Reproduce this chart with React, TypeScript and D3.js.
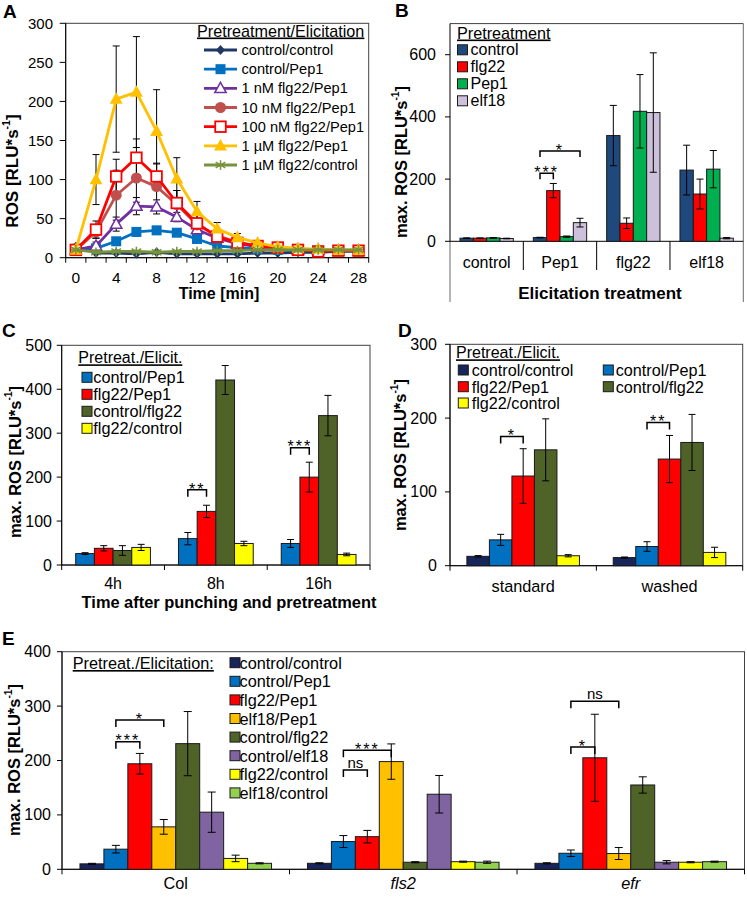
import React from "react";
import * as d3 from "d3";

const FONT = "'Liberation Sans', Arial, Helvetica, sans-serif";

// ---------------- Panel A data ----------------
const timeA = [0, 2, 4, 6, 8, 10, 12, 14, 16, 18, 20, 22, 24, 26, 28];
const seriesA = [
  "control/control",
  "control/Pep1",
  "1 nM flg22/Pep1",
  "10 nM flg22/Pep1",
  "100 nM flg22/Pep1",
  "1 µM flg22/Pep1",
  "1 µM flg22/control",
];
const ccA = [14, 6, 6, 5, 7, 5, 5, 5, 5, 6, 6, 7, 7, 8, 8];
const cPA = [10, 12, 21, 33, 35, 32, 24, 15, 13, 11, 10, 9, 9, 9, 9];
const n1A = [10, 15, 43, 66, 65, 52, 36, 25, 18, 14, 12, 10, 10, 9, 9];
const n10A = [10, 33, 80, 102, 91, 68, 42, 28, 20, 15, 12, 10, 9, 9, 9];
const n100A = [10, 36, 104, 128, 104, 70, 44, 27, 19, 15, 13, 10, 8, 9, 9];
const u1A = [10, 100, 203, 212, 162, 101, 59, 37, 26, 19, 14, 12, 11, 10, 10];
const fcA = [10, 7, 8, 8, 7, 8, 8, 9, 9, 10, 10, 10, 10, 10, 10];
const ccAe = [3, 1, 1, 1, 1, 1, 1, 1, 1, 1, 1, 1, 1, 1, 1];
const cPAe = [1, 2, 4, 5, 5, 4, 3, 2, 2, 1, 1, 1, 1, 1, 1];
const n1Ae = [1, 5, 9, 11, 9, 6, 5, 3, 2, 2, 1, 1, 1, 1, 1];
const n10Ae = [1, 8, 32, 31, 29, 18, 12, 6, 4, 3, 2, 1, 1, 1, 1];
const n100Ae = [1, 11, 22, 24, 17, 16, 14, 7, 5, 3, 2, 1, 1, 1, 1];
const u1Ae = [1, 32, 68, 71, 53, 27, 13, 8, 5, 3, 2, 2, 1, 1, 1];
const fcAe = [1, 1, 1, 1, 1, 1, 1, 1, 1, 1, 1, 1, 1, 1, 1];
const yTicksA = [0, 50, 100, 150, 200, 250, 300];
const colorsA = ["#1F3864", "#0070C0", "#7030A0", "#C0504D", "#FF0000", "#FFC000", "#77933C"];
const markersA = ["diamond", "square", "triOpen", "circle", "sqOpen", "tri", "star"];

// ---------------- Panel B data ----------------
const catsB = ["control", "Pep1", "flg22", "elf18"];
const seriesB = ["control", "flg22", "Pep1", "elf18"];
const bControl = [10, 12, 340, 229];
const bFlg22 = [10, 163, 58, 152];
const bPep1 = [11, 15, 418, 232];
const bElf18 = [9, 60, 414, 10];
const bControlE = [1, 1, 97, 80];
const bFlg22E = [1, 23, 17, 48];
const bPep1E = [1, 2, 118, 60];
const bElf18E = [1, 14, 192, 2];
const yTicksB = [0, 200, 400, 600];
const colorsB = ["#1F497D", "#FF0000", "#00B050", "#CCC0DA"];
const bracketsB = [
  { cat: 1, a: 0, b: 3, v: 290, label: "*" },
  { cat: 1, a: 0, b: 1, v: 219, label: "***" },
];

// ---------------- Panel C data ----------------
const catsC = ["4h", "8h", "16h"];
const seriesC = ["control/Pep1", "flg22/Pep1", "control/flg22", "flg22/control"];
const cCP = [26, 60, 49];
const cFP = [38, 122, 200];
const cCF = [33, 421, 340];
const cFC = [40, 49, 24];
const cCPe = [2, 14, 9];
const cFPe = [6, 14, 34];
const cCFe = [11, 33, 46];
const cFCe = [7, 5, 3];
const yTicksC = [0, 100, 200, 300, 400, 500];
const colorsC = ["#0070C0", "#FF0000", "#4F6228", "#FFFF00"];
const bracketsC = [
  { cat: 1, a: 0, b: 1, v: 171, label: "**" },
  { cat: 2, a: 0, b: 1, v: 267, label: "***" },
];

// ---------------- Panel D data ----------------
const catsD = ["standard", "washed"];
const seriesD = ["control/control", "control/Pep1", "flg22/Pep1", "control/flg22", "flg22/control"];
const dCC = [12.7, 11];
const dCP = [35, 26];
const dFP = [121.5, 144.5];
const dCF = [157, 167];
const dFC = [13.5, 18];
const dCCe = [1, 0.8];
const dCPe = [7.5, 6.5];
const dFPe = [37, 32];
const dCFe = [42, 38];
const dFCe = [1.5, 7];
const yTicksD = [0, 100, 200, 300];
const colorsD = ["#17255A", "#0070C0", "#FF0000", "#4F6228", "#FFFF00"];
const bracketsD = [
  { cat: 0, a: 1, b: 2, v: 175, label: "*" },
  { cat: 1, a: 1, b: 2, v: 194, label: "**" },
];

// ---------------- Panel E data ----------------
const catsE = ["Col", "fls2", "efr"];
const seriesE = [
  "control/control",
  "control/Pep1",
  "flg22/Pep1",
  "elf18/Pep1",
  "control/flg22",
  "control/elf18",
  "flg22/control",
  "elf18/control",
];
const eCC = [10, 11, 11];
const eCP = [37, 51, 29.5];
const eFP = [194, 60, 205];
const eEP = [78, 198, 29];
const eCF = [231, 13, 155];
const eCE = [105, 138, 13];
const eFC = [20, 14, 13];
const eEC = [11, 13, 14];
const eCCe = [1, 1, 1];
const eCPe = [7, 11, 6];
const eFPe = [19, 11.5, 80];
const eEPe = [13.5, 32.5, 11];
const eCFe = [59, 1, 15];
const eCEe = [37, 34.5, 3];
const eFCe = [6, 1, 1];
const eECe = [1, 2, 1];
const yTicksE = [0, 100, 200, 300, 400];
const colorsE = ["#17255A", "#0070C0", "#FF0000", "#FFC000", "#4F6228", "#8064A2", "#FFFF00", "#92D050"];
const bracketsE = [
  { cat: 0, a: 1, b: 3, v: 274.5, label: "*" },
  { cat: 0, a: 1, b: 2, v: 234.6, label: "***" },
  { cat: 1, a: 1, b: 3, v: 219, label: "***" },
  { cat: 1, a: 1, b: 2, v: 182.5, label: "ns" },
  { cat: 2, a: 1, b: 3, v: 309, label: "ns" },
  { cat: 2, a: 1, b: 2, v: 225, label: "*" },
];

// ------------------------------------------------

function YTitle({ cx, cy, pre, size }: { cx: number; cy: number; pre: string; size: number }) {
  return (
    <text
      transform={`translate(${cx},${cy}) rotate(-90)`}
      textAnchor="middle"
      dominantBaseline="central"
      fontWeight="bold"
      fontSize={size}
    >
      {pre}
      <tspan dy={-size * 0.38} fontSize={size * 0.62}>
        -1
      </tspan>
      <tspan dy={size * 0.38}>]</tspan>
    </text>
  );
}

function Marker({ kind, x, y, color }: { kind: string; x: number; y: number; color: string }) {
  if (kind === "diamond") {
    return <path d={`M${x},${y - 5}L${x + 4.5},${y}L${x},${y + 5}L${x - 4.5},${y}Z`} fill={color} />;
  }
  if (kind === "square") {
    return <rect x={x - 5} y={y - 5} width={10} height={10} fill={color} />;
  }
  if (kind === "triOpen") {
    const r = 6;
    return (
      <path
        d={`M${x},${y - r}L${x + r * 0.95},${y + r * 0.7}L${x - r * 0.95},${y + r * 0.7}Z`}
        fill="#fff"
        stroke={color}
        strokeWidth={1.5}
      />
    );
  }
  if (kind === "tri") {
    const r = 6.8;
    return <path d={`M${x},${y - r}L${x + r * 0.95},${y + r * 0.7}L${x - r * 0.95},${y + r * 0.7}Z`} fill={color} />;
  }
  if (kind === "circle") {
    return <circle cx={x} cy={y} r={5.5} fill={color} />;
  }
  if (kind === "sqOpen") {
    return <rect x={x - 5.3} y={y - 5.3} width={10.6} height={10.6} fill="#fff" stroke={color} strokeWidth={1.8} />;
  }
  // star / asterisk
  const r = 4.8;
  return (
    <g stroke={color} strokeWidth={1.5}>
      <line x1={x} y1={y - r} x2={x} y2={y + r} />
      <line x1={x - r} y1={y - r * 0.6} x2={x + r} y2={y + r * 0.6} />
      <line x1={x - r} y1={y + r * 0.6} x2={x + r} y2={y - r * 0.6} />
      <line x1={x - r} y1={y} x2={x + r} y2={y} />
    </g>
  );
}

function PanelA() {
  const left = 65.7;
  const right = 368.7;
  const bottom = 257.7;
  const top = 23.3;
  const x = d3.scaleBand<string>().domain(timeA.map(String)).range([left, right]).padding(0);
  const bw = x.bandwidth();
  const cx = (t: number) => (x(String(t)) as number) + bw / 2;
  const y = d3.scaleLinear().domain([0, 300]).range([bottom, top]);
  const vals = [ccA, cPA, n1A, n10A, n100A, u1A, fcA];
  const errs = [ccAe, cPAe, n1Ae, n10Ae, n100Ae, u1Ae, fcAe];
  const line = d3
    .line<number>()
    .x((_, i) => cx(timeA[i]))
    .y((v) => y(v));
  const legendY0 = 50;
  const legendStep = 19.17;
  return (
    <g>
      <text x={3} y={18} fontSize={19} fontWeight="bold">
        A
      </text>
      <rect x={left} y={top} width={right - left} height={bottom - top} fill="none" stroke="#404040" strokeWidth={1} />
      <line x1={left} y1={top} x2={left} y2={bottom} stroke="#000" />
      {yTicksA.map((t) => (
        <g key={t}>
          <line x1={left - 6} x2={left} y1={y(t)} y2={y(t)} stroke="#000" />
          <text x={53} y={y(t)} textAnchor="end" dominantBaseline="central" fontSize={15}>
            {t}
          </text>
        </g>
      ))}
      <line x1={left} y1={bottom} x2={right} y2={bottom} stroke="#000" />
      {d3.range(timeA.length + 1).map((i) => (
        <line key={i} x1={left + i * bw} x2={left + i * bw} y1={bottom} y2={bottom + 5} stroke="#000" />
      ))}
      {timeA
        .filter((t) => t % 4 === 0)
        .map((t) => (
          <text key={t} x={cx(t)} y={283} textAnchor="middle" fontSize={15.5}>
            {t}
          </text>
        ))}
      <text x={219} y={299} textAnchor="middle" fontSize={16} fontWeight="bold">
        Time [min]
      </text>
      <YTitle cx={12} cy={171} pre="ROS [RLU*s" size={17} />
      {vals.map((vs, s) =>
        vs.map((v, i) => {
          const e = errs[s][i];
          const xx = cx(timeA[i]);
          return (
            <g key={`${s}-${i}`} stroke="#000" strokeWidth={1}>
              <line x1={xx} x2={xx} y1={y(v + e)} y2={y(v - e)} />
              <line x1={xx - 3.5} x2={xx + 3.5} y1={y(v + e)} y2={y(v + e)} />
              <line x1={xx - 3.5} x2={xx + 3.5} y1={y(v - e)} y2={y(v - e)} />
            </g>
          );
        })
      )}
      {vals.map((vs, s) => (
        <g key={s}>
          <path d={line(vs) as string} fill="none" stroke={colorsA[s]} strokeWidth={2.8} strokeLinejoin="round" />
          {vs.map((v, i) => (
            <Marker key={i} kind={markersA[s]} x={cx(timeA[i])} y={y(v)} color={colorsA[s]} />
          ))}
        </g>
      ))}
      <text x={197} y={36.5} fontSize={16.2} style={{ textDecoration: "underline" }}>
        Pretreatment/Elicitation
      </text>
      {seriesA.map((name, s) => {
        const yy = legendY0 + s * legendStep;
        return (
          <g key={name}>
            <line x1={204} x2={237} y1={yy} y2={yy} stroke={colorsA[s]} strokeWidth={2.8} />
            <Marker kind={markersA[s]} x={220.5} y={yy} color={colorsA[s]} />
            <text x={241.5} y={yy} dominantBaseline="central" fontSize={14.6}>
              {name}
            </text>
          </g>
        );
      })}
    </g>
  );
}

type Bracket = { cat: number; a: number; b: number; v: number; label: string };

function Bars(props: {
  cats: string[];
  vals: number[][];
  errs: number[][];
  colors: string[];
  left: number;
  right: number;
  bottom: number;
  top: number;
  yMax: number;
  cap: number;
  brackets: Bracket[];
  drop: number;
  fontSize: number;
}) {
  const { cats, vals, errs, colors, left, right, bottom, top, yMax, cap, brackets, drop, fontSize } = props;
  const x = d3.scaleBand<string>().domain(cats).range([left, right]).padding(0);
  const n = vals.length;
  const bw = x.bandwidth() / (n + 1.5);
  const off = 0.75 * bw;
  const y = d3.scaleLinear().domain([0, yMax]).range([bottom, top]);
  const bx = (c: number, s: number) => (x(cats[c]) as number) + off + s * bw;
  return (
    <g>
      {vals.map((vs, s) =>
        vs.map((v, c) => (
          <rect
            key={`${s}-${c}`}
            x={bx(c, s)}
            y={y(v)}
            width={bw}
            height={y(0) - y(v)}
            fill={colors[s]}
            stroke="#1a1a1a"
            strokeWidth={1}
          />
        ))
      )}
      {vals.map((vs, s) =>
        vs.map((v, c) => {
          const e = errs[s][c];
          const xx = bx(c, s) + bw / 2;
          return (
            <g key={`e${s}-${c}`} stroke="#000" strokeWidth={1}>
              <line x1={xx} x2={xx} y1={y(v + e)} y2={y(v - e)} />
              <line x1={xx - cap} x2={xx + cap} y1={y(v + e)} y2={y(v + e)} />
              <line x1={xx - cap} x2={xx + cap} y1={y(v - e)} y2={y(v - e)} />
            </g>
          );
        })
      )}
      {brackets.map((b, i) => {
        const xa = bx(b.cat, b.a) + bw / 2;
        const xb = bx(b.cat, b.b) + bw / 2;
        const yy = y(b.v);
        const isStar = b.label.indexOf("*") >= 0;
        return (
          <g key={i}>
            <path
              d={`M${xa},${yy + drop}L${xa},${yy}L${xb},${yy}L${xb},${yy + drop}`}
              fill="none"
              stroke="#000"
              strokeWidth={1.5}
            />
            <text
              x={(xa + xb) / 2}
              y={isStar ? yy + fontSize * 0.3 : yy - 2.5}
              textAnchor="middle"
              fontSize={isStar ? fontSize : fontSize - 1}
              letterSpacing={isStar ? 2 : 0}
            >
              {b.label}
            </text>
          </g>
        );
      })}
    </g>
  );
}

function YAxis({ x, top, bottom, yMax, ticks, labelRight, fontSize }: any) {
  const y = d3.scaleLinear().domain([0, yMax]).range([bottom, top]);
  return (
    <g>
      <line x1={x} x2={x} y1={top} y2={bottom} stroke="#000" />
      {ticks.map((t: number) => (
        <g key={t}>
          <line x1={x - 5} x2={x} y1={y(t)} y2={y(t)} stroke="#000" />
          <text x={labelRight} y={y(t)} textAnchor="end" dominantBaseline="central" fontSize={fontSize}>
            {t}
          </text>
        </g>
      ))}
    </g>
  );
}

function Swatch({ x, y, color }: { x: number; y: number; color: string }) {
  return <rect x={x} y={y - 5} width={10} height={10} fill={color} stroke="#1a1a1a" strokeWidth={1} />;
}

function PanelB() {
  const left = 450;
  const right = 743.3;
  const bottom = 241.3;
  const top = 23.6;
  const x = d3.scaleBand<string>().domain(catsB).range([left, right]);
  const vals = [bControl, bFlg22, bPep1, bElf18];
  const errs = [bControlE, bFlg22E, bPep1E, bElf18E];
  return (
    <g>
      <text x={395} y={17} fontSize={19} fontWeight="bold">
        B
      </text>
      <line x1={left} x2={right} y1={top} y2={top} stroke="#404040" />
      <line x1={right} x2={right} y1={top} y2={302} stroke="#6a6a6a" />
      <line x1={left} x2={left} y1={bottom} y2={302} stroke="#6a6a6a" />
      <YAxis x={left} top={top} bottom={bottom} yMax={700} ticks={yTicksB} labelRight={436} fontSize={16} />
      <line x1={left} x2={right} y1={bottom} y2={bottom} stroke="#000" />
      {catsB.slice(1).map((c) => (
        <line key={c} x1={x(c) as number} x2={x(c) as number} y1={bottom} y2={270} stroke="#000" />
      ))}
      {catsB.map((c) => (
        <text key={c} x={(x(c) as number) + x.bandwidth() / 2} y={268} textAnchor="middle" fontSize={16}>
          {c}
        </text>
      ))}
      <text x={600} y={299} textAnchor="middle" fontSize={17} fontWeight="bold">
        Elicitation treatment
      </text>
      <YTitle cx={401} cy={162} pre="max. ROS [RLU*s" size={16.5} />
      <Bars
        cats={catsB}
        vals={vals}
        errs={errs}
        colors={colorsB}
        left={left}
        right={right}
        bottom={bottom}
        top={top}
        yMax={700}
        cap={3.5}
        brackets={bracketsB}
        drop={6}
        fontSize={16}
      />
      <text x={457} y={38.5} fontSize={16.2} style={{ textDecoration: "underline" }}>
        Pretreatment
      </text>
      {seriesB.map((s, i) => (
        <g key={s}>
          <Swatch x={457.5} y={49.8 + i * 17} color={colorsB[i]} />
          <text x={470.5} y={49.8 + i * 17} dominantBaseline="central" fontSize={16}>
            {s}
          </text>
        </g>
      ))}
    </g>
  );
}

function PanelC() {
  const left = 61.7;
  const right = 370;
  const bottom = 565;
  const top = 345.3;
  const x = d3.scaleBand<string>().domain(catsC).range([left, right]);
  return (
    <g>
      <text x={2} y={337} fontSize={19} fontWeight="bold">
        C
      </text>
      <rect x={left} y={top} width={right - left} height={bottom - top} fill="none" stroke="#404040" />
      <YAxis x={left} top={top} bottom={bottom} yMax={500} ticks={yTicksC} labelRight={52} fontSize={16} />
      <line x1={left} x2={right} y1={bottom} y2={bottom} stroke="#000" />
      {[...catsC.map((c) => x(c) as number), right].map((xx, i) => (
        <line key={i} x1={xx} x2={xx} y1={bottom} y2={bottom + 5} stroke="#000" />
      ))}
      {catsC.map((c) => (
        <text key={c} x={(x(c) as number) + x.bandwidth() / 2} y={589} textAnchor="middle" fontSize={16}>
          {c}
        </text>
      ))}
      <text x={229} y={608} textAnchor="middle" fontSize={16.4} fontWeight="bold">
        Time after punching and pretreatment
      </text>
      <YTitle cx={14.5} cy={462} pre="max. ROS [RLU*s" size={16.5} />
      <Bars
        cats={catsC}
        vals={[cCP, cFP, cCF, cFC]}
        errs={[cCPe, cFPe, cCFe, cFCe]}
        colors={colorsC}
        left={left}
        right={right}
        bottom={bottom}
        top={top}
        yMax={500}
        cap={3.5}
        brackets={bracketsC}
        drop={7}
        fontSize={16}
      />
      <text x={78.3} y={363.3} fontSize={16} style={{ textDecoration: "underline" }}>
        Pretreat./Elicit.
      </text>
      {seriesC.map((s, i) => (
        <g key={s}>
          <Swatch x={82} y={377.3 + i * 17} color={colorsC[i]} />
          <text x={93.3} y={377.3 + i * 17} dominantBaseline="central" fontSize={16.3}>
            {s}
          </text>
        </g>
      ))}
    </g>
  );
}

function PanelD() {
  const left = 450;
  const right = 742.7;
  const bottom = 565.7;
  const top = 344.3;
  const x = d3.scaleBand<string>().domain(catsD).range([left, right]);
  const pos = [
    [458.3, 471.7, 370],
    [603.3, 615.7, 370],
    [458.3, 471.7, 386.7],
    [603.3, 615.7, 386.7],
    [458.3, 471.7, 403],
  ];
  return (
    <g>
      <text x={398} y={337} fontSize={19} fontWeight="bold">
        D
      </text>
      <rect x={left} y={top} width={right - left} height={bottom - top} fill="none" stroke="#404040" />
      <YAxis x={left} top={top} bottom={bottom} yMax={300} ticks={yTicksD} labelRight={437} fontSize={16} />
      <line x1={left} x2={right} y1={bottom} y2={bottom} stroke="#000" />
      {[...catsD.map((c) => x(c) as number), right].map((xx, i) => (
        <line key={i} x1={xx} x2={xx} y1={bottom} y2={bottom + 5} stroke="#000" />
      ))}
      {catsD.map((c) => (
        <text key={c} x={(x(c) as number) + x.bandwidth() / 2} y={592} textAnchor="middle" fontSize={16.3}>
          {c}
        </text>
      ))}
      <YTitle cx={400} cy={455} pre="max. ROS [RLU*s" size={16.5} />
      <Bars
        cats={catsD}
        vals={[dCC, dCP, dFP, dCF, dFC]}
        errs={[dCCe, dCPe, dFPe, dCFe, dFCe]}
        colors={colorsD}
        left={left}
        right={right}
        bottom={bottom}
        top={top}
        yMax={300}
        cap={3.5}
        brackets={bracketsD}
        drop={7}
        fontSize={16}
      />
      <text x={456} y={358.3} fontSize={16} style={{ textDecoration: "underline" }}>
        Pretreat./Elicit.
      </text>
      {seriesD.map((s, i) => (
        <g key={s}>
          <Swatch x={pos[i][0]} y={pos[i][2]} color={colorsD[i]} />
          <text x={pos[i][1]} y={pos[i][2]} dominantBaseline="central" fontSize={16.2}>
            {s}
          </text>
        </g>
      ))}
    </g>
  );
}

function PanelE() {
  const left = 62;
  const right = 744.5;
  const bottom = 869.3;
  const top = 651.7;
  const x = d3.scaleBand<string>().domain(catsE).range([left, right]);
  return (
    <g>
      <text x={2} y={645} fontSize={19} fontWeight="bold">
        E
      </text>
      <rect x={left} y={top} width={right - left} height={bottom - top} fill="none" stroke="#404040" />
      <YAxis x={left} top={top} bottom={bottom} yMax={400} ticks={yTicksE} labelRight={51} fontSize={16} />
      <line x1={left} x2={right} y1={bottom} y2={bottom} stroke="#000" />
      {[...catsE.map((c) => x(c) as number), right].map((xx, i) => (
        <line key={i} x1={xx} x2={xx} y1={bottom} y2={bottom + 5} stroke="#000" />
      ))}
      {catsE.map((c, i) => (
        <text
          key={c}
          x={(x(c) as number) + x.bandwidth() / 2}
          y={889}
          textAnchor="middle"
          fontSize={16.3}
          fontStyle={i > 0 ? "italic" : "normal"}
        >
          {c}
        </text>
      ))}
      <YTitle cx={14} cy={760} pre="max. ROS [RLU*s" size={16.5} />
      <Bars
        cats={catsE}
        vals={[eCC, eCP, eFP, eEP, eCF, eCE, eFC, eEC]}
        errs={[eCCe, eCPe, eFPe, eEPe, eCFe, eCEe, eFCe, eECe]}
        colors={colorsE}
        left={left}
        right={right}
        bottom={bottom}
        top={top}
        yMax={400}
        cap={4}
        brackets={bracketsE}
        drop={7}
        fontSize={16}
      />
      <text x={72.7} y={669} fontSize={16.3} style={{ textDecoration: "underline" }}>
        Pretreat./Elicitation:
      </text>
      {seriesE.map((s, i) => (
        <g key={s}>
          <Swatch x={230} y={662.7 + i * 18.6} color={colorsE[i]} />
          <text x={239.5} y={662.7 + i * 18.6} dominantBaseline="central" fontSize={16.3}>
            {s}
          </text>
        </g>
      ))}
    </g>
  );
}

export default function App() {
  return (
    <svg
      width={747}
      height={897}
      viewBox="0 0 747 897"
      style={{ position: "absolute", left: 0, top: 0, display: "block", background: "#fff" }}
      fontFamily={FONT}
    >
      <rect x={0} y={0} width={747} height={897} fill="#fff" />
      <PanelA />
      <PanelB />
      <PanelC />
      <PanelD />
      <PanelE />
    </svg>
  );
}
